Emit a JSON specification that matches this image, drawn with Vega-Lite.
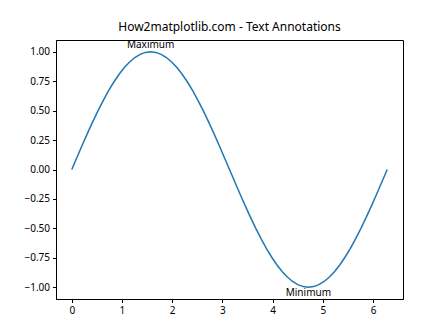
{
  "$schema": "https://vega.github.io/schema/vega-lite/v6.json",
  "width": 347,
  "height": 259,
  "autosize": {"type": "none"},
  "padding": {"left": 56, "top": 40, "right": 45, "bottom": 37},
  "background": "white",
  "config": {
    "view": {"stroke": "black", "strokeWidth": 1},
    "font": "Noto Sans",
    "axis": {
      "grid": false,
      "domainColor": "black",
      "tickColor": "black",
      "tickSize": 3.5,
      "labelColor": "black",
      "labelFont": "Noto Sans",
      "labelFontSize": 10,
      "labelPadding": 3,
      "labelOverlap": false,
      "labelFlush": false,
      "titleFontSize": 0
    }
  },
  "title": {
    "text": "How2matplotlib.com - Text Annotations",
    "font": "Noto Sans",
    "fontSize": 12,
    "fontWeight": "normal",
    "color": "black",
    "anchor": "middle",
    "offset": 6
  },
  "datasets": {
    "wave": [
      {"x": 0, "y": 0}, {"x": 0.1047, "y": 0.1045}, {"x": 0.2094, "y": 0.2079}, {"x": 0.3142, "y": 0.309},
      {"x": 0.4189, "y": 0.4067}, {"x": 0.5236, "y": 0.5}, {"x": 0.6283, "y": 0.5878}, {"x": 0.733, "y": 0.6691},
      {"x": 0.8378, "y": 0.7431}, {"x": 0.9425, "y": 0.809}, {"x": 1.0472, "y": 0.866}, {"x": 1.1519, "y": 0.9135},
      {"x": 1.2566, "y": 0.9511}, {"x": 1.3614, "y": 0.9781}, {"x": 1.4661, "y": 0.9945}, {"x": 1.5708, "y": 1.0},
      {"x": 1.6755, "y": 0.9945}, {"x": 1.7802, "y": 0.9781}, {"x": 1.885, "y": 0.9511}, {"x": 1.9897, "y": 0.9135},
      {"x": 2.0944, "y": 0.866}, {"x": 2.1991, "y": 0.809}, {"x": 2.3038, "y": 0.7431}, {"x": 2.4086, "y": 0.6691},
      {"x": 2.5133, "y": 0.5878}, {"x": 2.618, "y": 0.5}, {"x": 2.7227, "y": 0.4067}, {"x": 2.8274, "y": 0.309},
      {"x": 2.9322, "y": 0.2079}, {"x": 3.0369, "y": 0.1045}, {"x": 3.1416, "y": 0},
      {"x": 3.2463, "y": -0.1045}, {"x": 3.351, "y": -0.2079}, {"x": 3.4558, "y": -0.309}, {"x": 3.5605, "y": -0.4067},
      {"x": 3.6652, "y": -0.5}, {"x": 3.7699, "y": -0.5878}, {"x": 3.8746, "y": -0.6691}, {"x": 3.9794, "y": -0.7431},
      {"x": 4.0841, "y": -0.809}, {"x": 4.1888, "y": -0.866}, {"x": 4.2935, "y": -0.9135}, {"x": 4.3982, "y": -0.9511},
      {"x": 4.5029, "y": -0.9781}, {"x": 4.6077, "y": -0.9945}, {"x": 4.7124, "y": -1.0}, {"x": 4.8171, "y": -0.9945},
      {"x": 4.9218, "y": -0.9781}, {"x": 5.0265, "y": -0.9511}, {"x": 5.1313, "y": -0.9135}, {"x": 5.236, "y": -0.866},
      {"x": 5.3407, "y": -0.809}, {"x": 5.4454, "y": -0.7431}, {"x": 5.5501, "y": -0.6691}, {"x": 5.6549, "y": -0.5878},
      {"x": 5.7596, "y": -0.5}, {"x": 5.8643, "y": -0.4067}, {"x": 5.969, "y": -0.309}, {"x": 6.0737, "y": -0.2079},
      {"x": 6.1785, "y": -0.1045}, {"x": 6.2832, "y": 0}
    ],
    "notes": [
      {"label": "Maximum", "x": 1.5708, "y": 1.0, "pos": "top"},
      {"label": "Minimum", "x": 4.7124, "y": -1.0, "pos": "bottom"}
    ]
  },
  "encoding": {
    "x": {
      "field": "x", "type": "quantitative",
      "scale": {"domain": [-0.31416, 6.59734], "nice": false, "zero": false},
      "axis": {"values": [0, 1, 2, 3, 4, 5, 6], "format": "d", "title": null, "labelOverlap": false}
    },
    "y": {
      "field": "y", "type": "quantitative",
      "scale": {"domain": [-1.1, 1.1], "nice": false, "zero": false},
      "axis": {"values": [-1, -0.75, -0.5, -0.25, 0, 0.25, 0.5, 0.75, 1], "format": ".2f", "title": null, "labelOverlap": false, "labelFlush": false}
    }
  },
  "layer": [
    {
      "data": {"name": "wave"},
      "mark": {"type": "line", "color": "#1f77b4", "strokeWidth": 1.5, "clip": true}
    },
    {
      "data": {"name": "notes"},
      "transform": [{"filter": "datum.pos == 'top'"}],
      "mark": {"type": "text", "baseline": "alphabetic", "align": "center", "fontSize": 10, "font": "Noto Sans", "color": "black", "dy": -4},
      "encoding": {"text": {"field": "label"}}
    },
    {
      "data": {"name": "notes"},
      "transform": [{"filter": "datum.pos == 'bottom'"}],
      "mark": {"type": "text", "baseline": "alphabetic", "align": "center", "fontSize": 10, "font": "Noto Sans", "color": "black", "dy": 9},
      "encoding": {"text": {"field": "label"}}
    }
  ]
}
